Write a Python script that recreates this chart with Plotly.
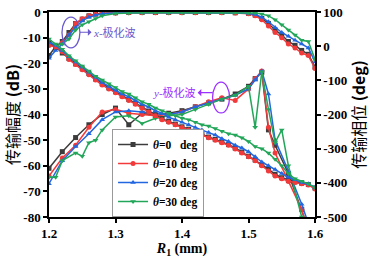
import plotly.graph_objects as go

# ---------------- data ----------------
THETA_LABELS = ["θ=0", "θ=10", "θ=20", "θ=30"]

# R1 grid for x-polarised magnitude (dB)
R_XMAG = [1.20, 1.21, 1.22, 1.23, 1.24, 1.25, 1.26, 1.27, 1.28, 1.30, 1.32, 1.34, 1.36, 1.38,
          1.40, 1.42, 1.44, 1.46, 1.48, 1.50, 1.51, 1.52, 1.53, 1.54, 1.55, 1.56, 1.57, 1.58,
          1.59, 1.60]
XMAG_0 = [-17, -13.5, -11.5, -8, -4.5, -2.8, -1.5, -0.8, -0.5, -0.3, -0.2, -0.2, -0.2, -0.2,
          -0.2, -0.2, -0.2, -0.2, -0.3, -0.5, -1.2, -2.5, -4.5, -7, -9, -11.5, -13, -15, -16.5, -21.5]
XMAG_10 = [-13, -13.5, -12, -9, -4.5, -2.6, -1.5, -0.9, -0.6, -0.4, -0.3, -0.3, -0.3, -0.3,
           -0.3, -0.3, -0.3, -0.3, -0.4, -0.7, -1.5, -3, -5.5, -8, -10, -12.5, -14, -16, -17, -22]
XMAG_20 = [-18, -15, -12.5, -9, -6, -3.5, -2, -1.2, -0.7, -0.4, -0.3, -0.3, -0.3, -0.3,
           -0.3, -0.3, -0.3, -0.3, -0.3, -0.5, -1, -2, -3.8, -6, -8, -9.5, -11, -12.5, -14, -19.5]
XMAG_30 = [-11.5, -13, -12.5, -10.5, -7, -5, -3.8, -2.5, -1.5, -0.6, -0.4, -0.3, -0.3, -0.3,
           -0.3, -0.3, -0.3, -0.3, -0.3, -0.3, -0.4, -0.8, -1.5, -3, -5, -7, -9, -11, -11.5, -18.5]

# R1 grid for x-polarised phase (deg)
R_PH = [1.20, 1.21, 1.22, 1.23, 1.24, 1.25, 1.26, 1.27, 1.28, 1.29, 1.30, 1.31, 1.32, 1.33,
        1.34, 1.35, 1.36, 1.37, 1.38, 1.39, 1.40, 1.41, 1.42, 1.43, 1.44, 1.45, 1.46, 1.47,
        1.48, 1.49, 1.50, 1.51, 1.52, 1.53, 1.54, 1.55, 1.56, 1.57, 1.58, 1.59, 1.60]
PH_0 = [10, -2, -20, -36, -52, -66, -80, -96, -110, -122, -133, -145, -156, -167, -178, -190,
        -201, -212, -220, -228, -236, -243, -250, -258, -266, -273, -280, -288, -298, -310,
        -322, -333, -347, -360, -375, -385, -392, -397, -401, -405, -415]
PH_10 = [3, -2, -16, -39, -54, -69, -84, -99, -114, -125, -136, -148, -159, -170, -181, -193,
         -204, -215, -223, -230, -238, -245, -253, -260, -268, -275, -283, -290, -301, -313,
         -324, -335, -350, -365, -380, -388, -395, -399, -403, -406, -418]
PH_20 = [10, 3, -13, -31, -46, -61, -76, -91, -106, -118, -129, -140, -148, -159, -170, -178,
         -189, -196, -208, -215, -223, -230, -238, -245, -253, -260, -271, -279, -290, -298,
         -309, -324, -339, -350, -361, -373, -384, -391, -399, -403, -414]
PH_30 = [21, 6, -9, -28, -43, -58, -73, -88, -99, -110, -121, -133, -140, -151, -163, -170,
         -181, -189, -196, -204, -211, -215, -223, -230, -234, -241, -249, -256, -260, -268,
         -279, -294, -300, -313, -331, -350, -373, -388, -395, -403, -414]

# R1 grid for y-polarised magnitude (dB)
R_Y = [1.20, 1.22, 1.24, 1.26, 1.28, 1.30, 1.32, 1.34, 1.36, 1.38, 1.40, 1.42, 1.44, 1.46,
       1.48, 1.50, 1.51, 1.52, 1.53, 1.54, 1.56, 1.58, 1.60]
R_Y_30 = [1.20, 1.21, 1.22, 1.24, 1.25, 1.26, 1.27, 1.28, 1.30, 1.32, 1.34, 1.36, 1.38, 1.40,
          1.42, 1.44, 1.46, 1.48, 1.50, 1.51, 1.52, 1.53, 1.54, 1.55, 1.56, 1.58, 1.60]
YMAG_0 = [-61, -54.5, -49, -44, -40, -37.5, -44, -39.5, -40.5, -39.5, -38.5, -37, -35.5, -34,
          -32, -29, -26, -23.5, -46, -52, -63, -77, -92]
YMAG_10 = [-64, -57, -52, -45, -39, -38, -39.5, -40, -40.5, -40, -39, -37, -35, -33.5,
           -34.5, -30, -26, -23, -45, -55, -66, -77, -95]
YMAG_20 = [-67, -58, -52.5, -47.5, -42, -39, -38.5, -39, -39.5, -40, -39, -37, -35.5, -34,
           -32.5, -30, -26.5, -23, -32, -50, -62, -75, -90]
YMAG_30 = [-64.5, -64.5, -58, -55, -56.3, -51, -50, -46, -41, -40.5, -43.5, -41.5, -40.5, -40,
           -38, -36, -34, -32.5, -29, -45, -23.3, -38, -51, -46, -60, -80, -92]

LEFT_TICKS = [0, -10, -20, -30, -40, -50, -60, -70, -80]
RIGHT_TICKS = [100, 0, -100, -200, -300, -400, -500]
X_TICKS = [1.2, 1.3, 1.4, 1.5, 1.6]

# ---------------- styles ----------------
COLORS = ["#3c3c3c", "#f23a3a", "#2266e0", "#22a659"]
SYMBOLS = ["square", "circle", "triangle-up", "triangle-down"]
SERIF = "Liberation Serif, Times New Roman, serif"
CJK = "Noto Sans CJK SC, Liberation Serif"
ANN_FONT = "Liberation Serif, Noto Sans CJK SC"

series = [
    (XMAG_0, PH_0, R_Y, YMAG_0),
    (XMAG_10, PH_10, R_Y, YMAG_10),
    (XMAG_20, PH_20, R_Y, YMAG_20),
    (XMAG_30, PH_30, R_Y_30, YMAG_30),
]

fig = go.Figure()
for i, (xm, ph, ry, ym) in enumerate(series):
    c, s = COLORS[i], SYMBOLS[i]
    name = THETA_LABELS[i].replace("θ", "<i>θ</i>")
    name = "<b>" + name + ("\u00a0\u00a0\u00a0" if i == 0 else " ") + "deg</b>"
    common = dict(mode="lines+markers", line=dict(color=c, width=1.5),
                  marker=dict(color=c, symbol=s, size=5), legendgroup=str(i))
    fig.add_trace(go.Scatter(x=R_XMAG, y=xm, name=name, showlegend=True, **common))
    fig.add_trace(go.Scatter(x=R_PH, y=ph, yaxis="y2", showlegend=False, **common))
    fig.add_trace(go.Scatter(x=ry, y=ym, showlegend=False, **common))

axis_common = dict(showline=True, linecolor="black", linewidth=1.5, ticks="outside",
                   ticklen=4, tickwidth=1.5, tickcolor="black", showgrid=False,
                   zeroline=False, ticklabeloverflow="allow",
                   tickfont=dict(family=SERIF, size=13, color="black", weight="bold"))

fig.update_layout(
    width=370, height=258,
    margin=dict(l=49, r=55, t=5, b=40),
    paper_bgcolor="white", plot_bgcolor="white",
    xaxis=dict(range=[1.2, 1.6], tickvals=X_TICKS, ticktext=[f"{v:.1f}" for v in X_TICKS],
               mirror=True,
               title=dict(text="<b><i>R</i></b><sub><b>1</b></sub><b> (mm)</b>",
                          font=dict(family=SERIF, size=14, color="black"), standoff=2),
               **axis_common),
    yaxis=dict(range=[-80, 0], tickvals=LEFT_TICKS, ticktext=[str(v) for v in LEFT_TICKS],
               title=dict(text="传输幅度 <b>(dB)</b>", font=dict(family=CJK, size=16, color="black"),
                          standoff=4),
               **axis_common),
    yaxis2=dict(range=[-500, 100], tickvals=RIGHT_TICKS, ticktext=[str(v) for v in RIGHT_TICKS],
                overlaying="y", side="right",
                title=dict(text="传输相位 <b>(deg)</b>", font=dict(family=CJK, size=16, color="black"),
                           standoff=4),
                **axis_common),
    legend=dict(x=0.237, y=0.0, xanchor="left", yanchor="bottom",
                bgcolor="white", bordercolor="#999999", borderwidth=1,
                font=dict(family=SERIF, size=11.5, color="black"),
                itemwidth=30, tracegroupgap=0, traceorder="normal"),
    showlegend=True,
)

# annotations: ellipses and labels (arrowhead drawn at the text side)
fig.add_shape(type="circle", xref="x", yref="y", x0=1.2195, x1=1.2465, y0=-14, y1=-2,
              line=dict(color="#6a5acd", width=1.3))
fig.add_annotation(x=1.2465, y=-7.9, xref="x", yref="y", ax=1.2985, ay=-7.9, axref="x", ayref="y",
                   showarrow=True, arrowhead=2, arrowside="start", arrowsize=1, arrowwidth=1.2,
                   arrowcolor="#6a5acd", text="<i>x</i>-极化波",
                   font=dict(family=ANN_FONT, size=11, color="#6a5acd"))
fig.add_shape(type="circle", xref="x", yref="y", x0=1.446, x1=1.4715, y0=-39.4, y1=-27.4,
              line=dict(color="#9b30ff", width=1.3))
fig.add_annotation(x=1.446, y=-31.5, xref="x", yref="y", ax=1.389, ay=-31.5, axref="x", ayref="y",
                   showarrow=True, arrowhead=2, arrowside="start", arrowsize=1, arrowwidth=1.2,
                   arrowcolor="#9b30ff", text="<i>y</i>-极化波",
                   font=dict(family=ANN_FONT, size=11, color="#9b30ff"))

fig.write_html("out.html", config={"displayModeBar": False},
               post_script="document.body.style.margin='0';document.body.style.padding='0';")
